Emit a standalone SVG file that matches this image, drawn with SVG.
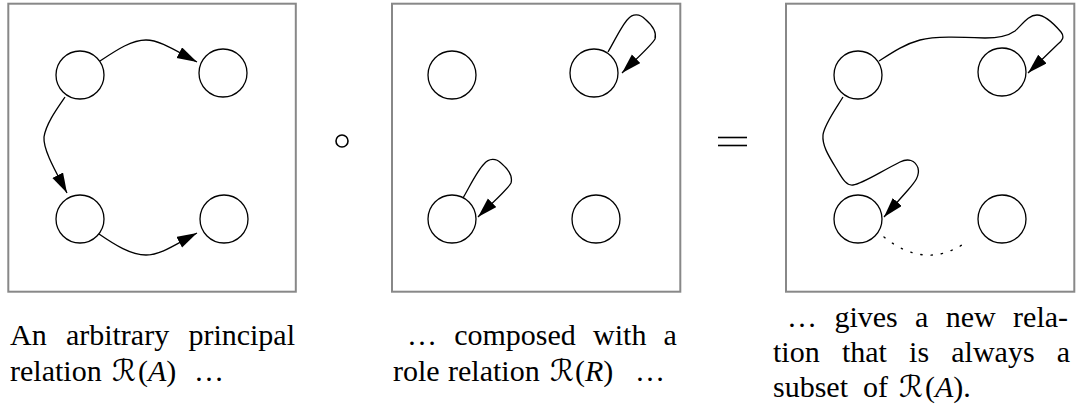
<svg xmlns="http://www.w3.org/2000/svg" width="1078" height="408" viewBox="0 0 1078 408">
<style>
.frame{fill:none;stroke:#888;stroke-width:2}
.node{fill:#fff;stroke:#000;stroke-width:1.3}
.edge{fill:none;stroke:#000;stroke-width:1.3;marker-end:url(#ah)}
.dot{fill:none;stroke:#000;stroke-width:1.4;stroke-dasharray:1.3 9;stroke-linecap:round}
.op{fill:none;stroke:#000;stroke-width:1.6}
</style>
<defs>
<marker id="ah" markerUnits="userSpaceOnUse" markerWidth="22" markerHeight="13" refX="20" refY="6" orient="auto">
<path d="M0,0 L20,6 L0,12 z" fill="#000"/>
</marker>
</defs>
<rect width="1078" height="408" fill="#fff"/>
<g id="frames">
<rect class="frame" x="8.3" y="3.7" width="287.5" height="288"/>
<rect class="frame" x="392" y="3.7" width="288.3" height="288"/>
<rect class="frame" x="786" y="3.7" width="288.3" height="288"/>
</g>
<g id="connectors">
<path class="edge" d="M100,61 C118,49 132,40 146,40 C160,40 176,51 197,62"/>
<path class="edge" d="M65,97 C56,110 46,124 44,137 C43,150 56,172 67,193"/>
<path class="edge" d="M99,234 C115,245 131,255 146,255 C161,255 176,244 197,233"/>
<path class="edge" d="M608,52 C615,40 622,25 628,19 C633,13 640,14 645,19 C652,25 657,32 655,39 C652,45 635,60 622,73"/>
<path class="edge" d="M463,198 C470,186 477,171 484,164 C489,158 496,158 501,163 C508,169 513,176 511,183 C508,189 491,204 478,217"/>
<path class="edge" d="M879,61 C893,52 905,44 920,40 C935,36 960,37 985,38 C1000,38 1008,36 1015,31 C1022,25 1028,15 1037,15 C1045,15 1055,25 1061,32 C1065,37 1062,41 1058,44 L1028,73"/>
<path class="edge" d="M843,97 C835,110 824,125 823,135 C822,145 828,155 836,168 C842,178 846,186 853,185 C862,184 880,172 900,162 C908,158 915,160 918,168 C920,176 915,182 908,190 L884,217"/>
<path class="dot" d="M884,237 Q925,270 965,243"/>
</g>
<g id="p1-tl"><circle class="node" cx="80" cy="75" r="24"/></g>
<g id="p1-tr"><circle class="node" cx="223" cy="73" r="24"/></g>
<g id="p1-bl"><circle class="node" cx="80" cy="219" r="24"/></g>
<g id="p1-br"><circle class="node" cx="224" cy="219" r="24"/></g>
<g id="p2-tl"><circle class="node" cx="452" cy="75" r="24"/></g>
<g id="p2-tr"><circle class="node" cx="594" cy="73" r="24"/></g>
<g id="p2-bl"><circle class="node" cx="452" cy="219" r="24"/></g>
<g id="p2-br"><circle class="node" cx="596" cy="219" r="24"/></g>
<g id="p3-tl"><circle class="node" cx="858" cy="75" r="24"/></g>
<g id="p3-tr"><circle class="node" cx="1002" cy="72" r="24"/></g>
<g id="p3-bl"><circle class="node" cx="858" cy="219" r="24"/></g>
<g id="p3-br"><circle class="node" cx="1002" cy="219" r="24"/></g>
<g id="operators">
<circle class="op" cx="342" cy="141" r="6"/>
<line class="op" x1="718" y1="137.5" x2="747" y2="137.5"/>
<line class="op" x1="718" y1="145.5" x2="747" y2="145.5"/>
</g>
<g id="captions" fill="#000">
<text y="345" font-family="Liberation Serif" font-size="30"><tspan x="10">An</tspan> <tspan x="65.9">arbitrary</tspan> <tspan x="188.4">principal</tspan></text>
<text y="381" font-family="Liberation Serif" font-size="30"><tspan x="10">relation</tspan> <tspan x="112" font-family="DejaVu Sans">ℛ</tspan><tspan x="138">(</tspan><tspan font-style="italic">A</tspan>) <tspan x="194">…</tspan></text>
<text y="345" font-family="Liberation Serif" font-size="30"><tspan x="407">…</tspan> <tspan x="454.2">composed</tspan> <tspan x="593.1">with</tspan> <tspan x="663.6">a</tspan></text>
<text y="381" font-family="Liberation Serif" font-size="30"><tspan x="393">role</tspan> <tspan x="448">relation</tspan> <tspan x="550" font-family="DejaVu Sans">ℛ</tspan><tspan x="575">(</tspan><tspan font-style="italic">R</tspan>) <tspan x="635">…</tspan></text>
<text y="327" font-family="Liberation Serif" font-size="30"><tspan x="787">…</tspan> <tspan x="834.4">gives</tspan> <tspan x="915">a</tspan> <tspan x="945.7">new</tspan> <tspan x="1013.1">rela-</tspan></text>
<text y="362" font-family="Liberation Serif" font-size="30"><tspan x="773">tion</tspan> <tspan x="841.9">that</tspan> <tspan x="909.1">is</tspan> <tspan x="951.3">always</tspan> <tspan x="1056.8">a</tspan></text>
<text y="397" font-family="Liberation Serif" font-size="30"><tspan x="773">subset</tspan> <tspan x="863">of</tspan> <tspan x="899" font-family="DejaVu Sans">ℛ</tspan><tspan x="925">(</tspan><tspan font-style="italic">A</tspan>).</text>
</g>
</svg>
